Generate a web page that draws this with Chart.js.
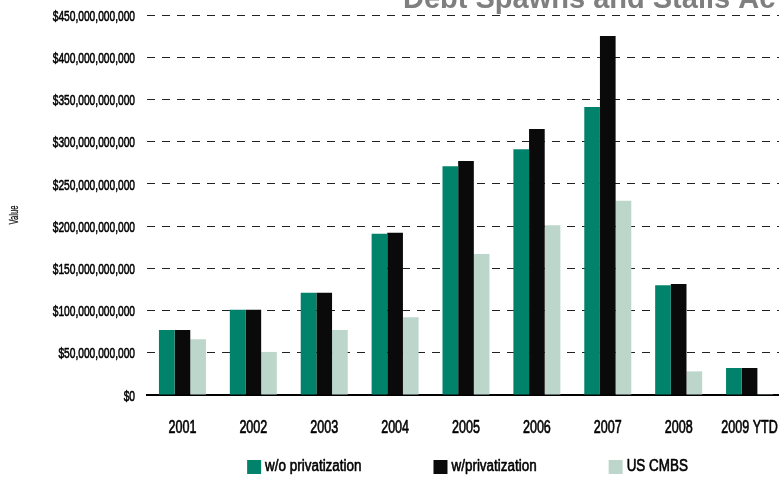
<!DOCTYPE html>
<html>
<head>
<meta charset="utf-8">
<script src="https://cdn.jsdelivr.net/npm/chart.js@4"></script>
<style>
  html, body { margin: 0; padding: 0; background: #fff; overflow: hidden; }
  #wrap { width: 779px; height: 477px; overflow: hidden; position: relative; }
  canvas { display: block; }
</style>
</head>
<body>
<div id="wrap"><canvas id="c" width="800" height="477" style="width:800px;height:477px"></canvas></div>
<script>
// Data (values in billions of US dollars)
const categories = ['2001', '2002', '2003', '2004', '2005', '2006', '2007', '2008', '2009 YTD'];
const woPrivatization = [77, 101, 121, 191, 271, 291, 341, 130, 32];
const wPrivatization  = [77, 101, 121, 192, 277, 315, 425, 131.5, 32];
const usCMBS          = [66, 51, 77, 92, 167, 201, 230, 28, 1];
const seriesNames = ['w/o privatization', 'w/privatization', 'US CMBS'];
const seriesColors = ['#00836A', '#0A0A0A', '#BCD6CC'];
const titleText = 'Debt Spawns and Stalls Ac';
const yAxisTitle = 'Value';

const SANS = "'Liberation Sans', Arial, sans-serif";
const fmtMoney = v => '$' + (v * 1e9).toLocaleString('en-US');

// draws condensed, slightly heavier text to imitate the narrow medium face
function narrowText(ctx, text, x, y, scaleX, align, weight) {
  ctx.save();
  ctx.translate(x, y);
  ctx.scale(scaleX, 1);
  ctx.textAlign = align;
  ctx.fillText(text, 0, 0);
  if (weight) {
    ctx.strokeStyle = ctx.fillStyle;
    ctx.lineWidth = weight;
    ctx.lineJoin = 'round';
    ctx.strokeText(text, 0, 0);
  }
  ctx.restore();
}

const overlay = {
  id: 'overlay',
  afterDraw(chart) {
    const ctx = chart.ctx;
    const area = chart.chartArea;
    const xs = chart.scales.x, ys = chart.scales.y;
    ctx.save();

    // Y tick labels
    ctx.fillStyle = '#000';
    ctx.font = '15px ' + SANS;
    ctx.textBaseline = 'middle';
    ys.ticks.forEach(t => {
      narrowText(ctx, fmtMoney(t.value), area.left - 12, ys.getPixelForValue(t.value) + 1.5, 0.68, 'right', 0.6);
    });

    // X tick labels
    ctx.font = '19px ' + SANS;
    categories.forEach((c, i) => {
      narrowText(ctx, c, xs.getPixelForTick(i), 428, 0.66, 'center', 0.7);
    });

    // Title (clipped at the top of the picture)
    ctx.fillStyle = '#7F7F7F';
    ctx.font = "bold 29px " + SANS;
    ctx.textAlign = 'left';
    ctx.textBaseline = 'alphabetic';
    ctx.fillText(titleText, 403, 8);

    // Y axis title
    ctx.save();
    ctx.translate(15, 215);
    ctx.rotate(-Math.PI / 2);
    ctx.fillStyle = '#111';
    ctx.font = '12px ' + SANS;
    ctx.textBaseline = 'middle';
    narrowText(ctx, yAxisTitle, 0, 0, 0.64, 'center', 0.3);
    ctx.restore();

    // Legend
    const lx = 0.84;
    ctx.font = '16px ' + SANS;
    ctx.textBaseline = 'middle';
    const box = 14, gapText = 4, spacing = 72;
    const widths = seriesNames.map(n => box + gapText + ctx.measureText(n).width * lx);
    const total = widths.reduce((a, b) => a + b, 0) + spacing * (seriesNames.length - 1);
    let x = (area.left + area.right) / 2 + 1.5 - total / 2;
    const yMid = 467;
    seriesNames.forEach((n, i) => {
      ctx.fillStyle = seriesColors[i];
      ctx.fillRect(x, yMid - 7, box, box);
      ctx.fillStyle = '#000';
      narrowText(ctx, n, x + box + gapText, yMid, lx, 'left', 0.6);
      x += widths[i] + spacing;
    });
    ctx.restore();
  }
};

new Chart(document.getElementById('c'), {
  type: 'bar',
  data: {
    labels: categories,
    datasets: [
      { label: seriesNames[0], data: woPrivatization, backgroundColor: seriesColors[0] },
      { label: seriesNames[1], data: wPrivatization, backgroundColor: seriesColors[1] },
      { label: seriesNames[2], data: usCMBS, backgroundColor: seriesColors[2] }
    ]
  },
  options: {
    responsive: false,
    animation: false,
    devicePixelRatio: 1,
    layout: { padding: { top: 15, right: 15, bottom: 0, left: 0 } },
    datasets: { bar: { categoryPercentage: 0.663, barPercentage: 1.0, borderWidth: 0 } },
    plugins: {
      legend: { display: false },
      title: { display: false },
      tooltip: { enabled: false }
    },
    scales: {
      x: {
        grid: { display: false, drawTicks: false },
        border: { display: true, color: '#000', width: 2 },
        ticks: { display: false, autoSkip: false },
        afterFit(scale) { scale.height = 82; }
      },
      y: {
        min: 0,
        max: 450,
        grid: { color: '#222', lineWidth: 1, drawTicks: false },
        border: { display: false, dash: [8, 7] },
        ticks: { display: false, stepSize: 50, callback: fmtMoney },
        afterFit(scale) { scale.width = 147; }
      }
    }
  },
  plugins: [overlay]
});
</script>
</body>
</html>
